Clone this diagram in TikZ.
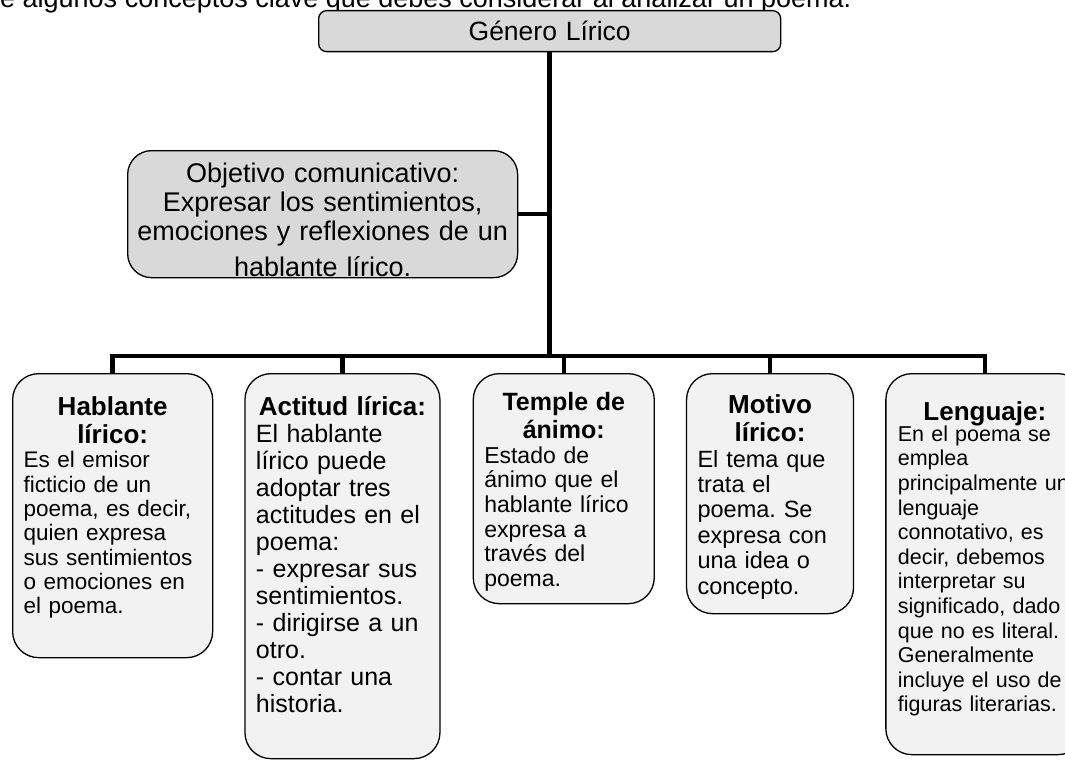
\documentclass[tikz,border=0pt]{standalone}
\usepackage{fontspec}
\setmainfont{Liberation Sans}
\usepackage{tikz}
\usetikzlibrary{positioning}

\newcommand{\boxhead}[2][26]{{\centering\bfseries\fontsize{#1}{28}\selectfont #2\par}}

\begin{document}
\frenchspacing
\begin{tikzpicture}[
    x=1pt,
    y=-1pt,
    title/.style={
        draw,
        fill=black!15,
        rounded corners=8pt,
        line width=1.3pt,
        inner sep=0pt,
        anchor=north west,
        text width=462pt,
        align=center,
        text height=30pt,
        text depth=11pt,
        font=\fontsize{26.5}{28}\selectfont
    },
    objbox/.style={
        draw,
        fill=black!15,
        rounded corners=24pt,
        line width=1.3pt,
        inner sep=0pt,
        anchor=north west,
        text width=390pt,
        align=center,
        text height=32pt,
        text depth=95pt,
        font=\fontsize{27}{29}\selectfont
    },
    item/.style={
        draw,
        fill=black!5,
        rounded corners=26pt,
        line width=1.3pt,
        inner xsep=11pt,
        inner ysep=0pt,
        anchor=north west,
        align=left
    },
    line/.style={
        draw,
        line width=4.5pt
    }
]
\useasboundingbox (0,0) rectangle (1065,760);

% Nodes
\node [anchor=base west, inner sep=0pt, font=\fontsize{27}{30}\selectfont] (intro) at (0,8)
    {e algunos conceptos clave que debes considerar al analizar un poema.};
\node [title] (genero) at (318,10) {Género Lírico};
\node [objbox] (objetivo) at (127,150)
    {Objetivo comunicativo:\\ Expresar los sentimientos,\\ emociones y reflexiones de un\\[7pt] hablante lírico.};

\node [item, text width=178pt, text height=42pt, text depth=242pt,
       font=\fontsize{22.5}{24.3}\selectfont] (hablante) at (12,373)
    {\boxhead{Hablante\\ lírico:}
     Es el emisor\\ ficticio de un\\ poema, es decir,\\ quien expresa\\ sus sentimientos\\ o emociones en\\ el poema.};
\node [item, right=31pt of hablante.north east, anchor=north west,
       text width=173pt, text height=42pt, text depth=343pt,
       font=\fontsize{25}{27}\selectfont] (actitud)
    {\boxhead{Actitud lírica:}
     El hablante\\ lírico puede\\ adoptar tres\\ actitudes en el\\ poema:\\ - expresar sus\\ sentimientos.\\ - dirigirse a un\\ otro.\\ - contar una\\ historia.};
\node [item, right=32pt of actitud.north east, anchor=north west,
       text width=159pt, text height=37pt, text depth=193pt,
       font=\fontsize{23}{24.6}\selectfont] (temple)
    {\boxhead[25]{Temple de\\ ánimo:}
     Estado de\\ ánimo que el\\ hablante lírico\\ expresa a\\ través del\\ poema.};
\node [item, right=31pt of temple.north east, anchor=north west,
       text width=145pt, text height=40pt, text depth=200pt,
       font=\fontsize{23.5}{25.4}\selectfont] (motivo)
    {\boxhead{Motivo\\ lírico:}
     El tema que\\ trata el\\ poema. Se\\ expresa con\\ una idea o\\ concepto.};
\node [item, right=31pt of motivo.north east, anchor=north west, inner xsep=12pt,
       text width=174pt, text height=47pt, text depth=334pt,
       font=\fontsize{21.5}{24.6}\selectfont] (lenguaje)
    {\boxhead{Lenguaje:}\vspace*{-4pt}
     En el poema se\\ emplea\\ principalmente un\\ lenguaje\\ connotativo, es\\ decir, debemos\\ interpretar su\\ significado, dado\\ que no es literal.\\ Generalmente\\ incluye el uso de\\ figuras literarias.};

\coordinate (bus) at (547,356);

% Edges
\path [line] (genero.south) -- (genero.south |- bus);
\path [line] (objetivo.east) -- (objetivo.east -| genero.south);
\path [line] (hablante.north) |- (bus) -| (lenguaje.north);
\foreach \n in {actitud,temple,motivo}
    \path [line] (\n.north) -- (\n.north |- bus);

\end{tikzpicture}
\end{document}
